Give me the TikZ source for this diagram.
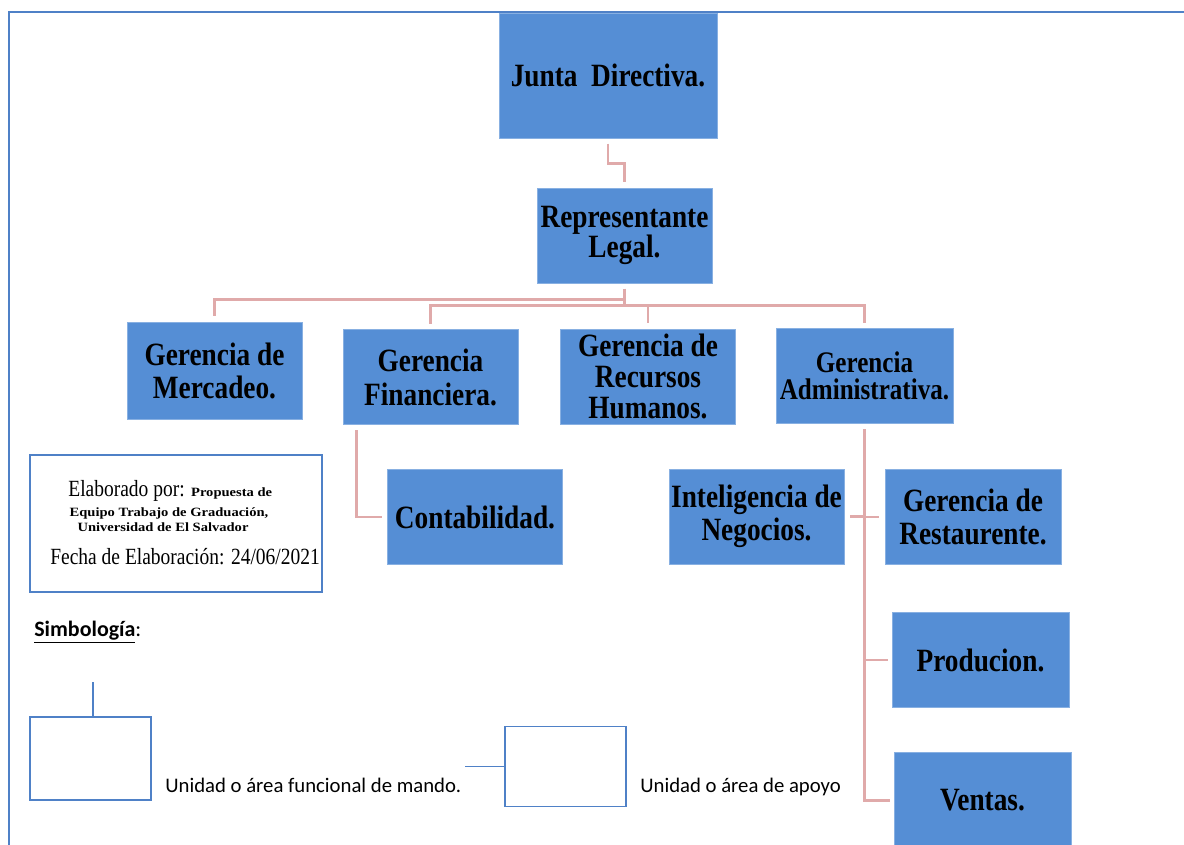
\documentclass[tikz,border=0pt]{standalone}
\usepackage{fontspec}
\setmainfont{Liberation Serif}
\newfontfamily\orgfont[FakeStretch=0.84]{Liberation Serif}
\newfontfamily\notefont[FakeStretch=1.15]{Liberation Serif}
\newfontfamily\legendfont{Carlito}
\definecolor{boxblue}{RGB}{85,142,213}
\definecolor{frameblue}{RGB}{79,129,199}
\definecolor{linkpink}{RGB}{224,170,170}

\begin{document}
\begin{tikzpicture}[x=0.02cm, y=-0.02cm,
	orgbox/.style={rectangle, fill=boxblue, draw=boxblue!70!white, line width=0.4pt, minimum width=3.5cm, minimum height=1.9cm, inner sep=0pt, align=center, font=\orgfont\bfseries\fontsize{18.5}{18.8}\selectfont},
	link/.style={draw=linkpink, line width=1.7pt},
	legendbox/.style={rectangle, draw=frameblue, line width=0.9pt, inner sep=0pt},
	legendtext/.style={anchor=base west, inner sep=0pt, font=\legendfont\fontsize{11.8}{14}\selectfont}]
		\useasboundingbox (0,0) rectangle (1184,845);
		\draw[frameblue, line width=1.2pt] (9,845) -- (9,12) -- (1184,12);
		\node[orgbox, minimum width=4.36cm, minimum height=2.5cm] (junta) at (608,75.5) {Junta\ \ Directiva.};
		\node[orgbox, font=\orgfont\bfseries\fontsize{18.5}{17}\selectfont] (rep) at (624.5,235.5) {Representante\\Legal.};
		\node[orgbox, minimum height=1.94cm] (merc) at (214.5,370.5) {Gerencia de\\Mercadeo.};
		\node[orgbox, font=\orgfont\bfseries\fontsize{18.5}{19.3}\selectfont] (fin) at (430.5,377) {Gerencia\\Financiera.};
		\node[orgbox, font=\orgfont\bfseries\fontsize{18.5}{17.6}\selectfont] (rrhh) at (648,376.5) {Gerencia de\\Recursos\\Humanos.};
		\node[orgbox, minimum width=3.54cm, font=\orgfont\bfseries\fontsize{17}{15.5}\selectfont] (adm) at (864.5,376) {Gerencia\\Administrativa.};
		\node[orgbox] (cont) at (475,517) {Contabilidad.};
		\node[orgbox] (intel) at (756.5,516.5) {Inteligencia de\\Negocios.};
		\node[orgbox, minimum width=3.52cm] (rest) at (973,517) {Gerencia de\\Restaurente.};
		\node[orgbox, minimum width=3.54cm] (prod) at (980.5,660) {Producion.};
		\node[orgbox, minimum width=3.54cm] (ventas) at (982.5,800) {Ventas.};
		\draw[link] ([yshift=-3pt]junta.south) -- ++(0,20) -| ([yshift=3pt]rep.north);
		\draw[link] ([yshift=-3pt]rep.south) -- ++(0,11) -| ([yshift=3pt]merc.north)
			([yshift=-3pt]rep.south) -- ++(0,17) -| ([yshift=3pt]fin.north)
			([yshift=-3pt]rep.south) -- ++(0,17) -| ([yshift=3pt]rrhh.north)
			([yshift=-3pt]rep.south) -- ++(0,17) -| ([yshift=3pt]adm.north);
		\draw[link] ([xshift=0.28cm, yshift=-3pt]fin.south west) |- ([xshift=-3pt]cont.west);
		\draw[link] ([yshift=-3pt]adm.south) |- ([xshift=3pt]intel.east)
			([yshift=-3pt]adm.south) |- ([xshift=-3pt]rest.west)
			([yshift=-3pt]adm.south) |- ([xshift=-2pt]prod.west)
			([yshift=-3pt]adm.south) |- ([xshift=-2pt]ventas.west);
		\node[legendbox, minimum width=5.84cm, minimum height=2.74cm] (info) at (176,523.5) {};
		\node[anchor=base west, inner sep=0pt] (elab) at (68,496) {\orgfont\fontsize{13.2}{14}\selectfont Elaborado por: {\notefont\bfseries\fontsize{7.2}{8}\selectfont Propuesta de}};
		\node[anchor=base, inner sep=0pt, font=\notefont\bfseries\fontsize{7.2}{8}\selectfont] (equipo) at (169,516) {Equipo Trabajo de Graduación,};
		\node[anchor=base, inner sep=0pt, font=\notefont\bfseries\fontsize{7.2}{8}\selectfont] (univ) at (163,531) {Universidad de El Salvador};
		\node[anchor=base west, inner sep=0pt, font=\orgfont\fontsize{13.2}{14}\selectfont] (fecha) at (50,564) {Fecha de Elaboración: 24/06/2021};
		\node[anchor=base west, inner sep=0pt, font=\legendfont\fontsize{12.5}{14}\selectfont] (simb) at (34,636) {\textbf{\underline{Simbología}}:};
		\node[legendbox, minimum width=2.42cm, minimum height=1.66cm] (mando) at (90.5,758.5) {};
		\coordinate (mandotop) at (93,682);
		\draw[frameblue, line width=0.9pt] (mandotop) -- (mandotop |- mando.north);
		\node[legendtext] (mandotext) at (165,792) {Unidad o área funcional de mando.};
		\node[legendbox, minimum width=2.42cm, minimum height=1.6cm] (apoyo) at (565.5,766.5) {};
		\coordinate (apoyoleft) at (465,766.5);
		\draw[frameblue, line width=0.9pt] (apoyoleft) -- (apoyo.west);
		\node[legendtext] (apoyotext) at (640,792) {Unidad o área de apoyo};
\end{tikzpicture}
\end{document}
